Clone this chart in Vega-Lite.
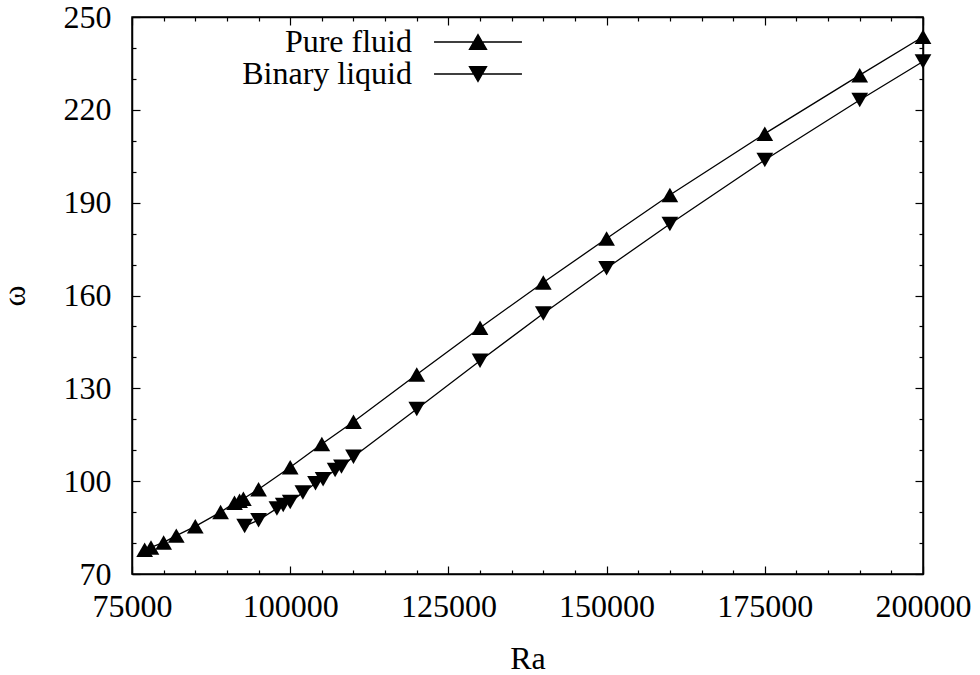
{
  "$schema": "https://vega.github.io/schema/vega-lite/v6.json",
  "width": 791,
  "height": 557,
  "autosize": {"type": "none"},
  "padding": {"left": 132, "top": 17, "right": 57, "bottom": 101},
  "background": "white",
  "config": {
    "view": {"stroke": "black", "strokeWidth": 1.5},
    "font": "Liberation Serif",
    "axis": {
      "labelFont": "Liberation Serif",
      "labelFontSize": 32,
      "labelColor": "black",
      "titleFont": "Liberation Serif",
      "titleFontSize": 32,
      "titleFontWeight": "normal",
      "titleColor": "black",
      "domainColor": "black",
      "domainWidth": 1.5,
      "tickColor": "black",
      "tickWidth": 1.2,
      "grid": false,
      "labelFlush": false,
      "labelOverlap": false,
      "labelBound": false
    },
    "legend": {
      "labelFont": "Liberation Serif",
      "labelFontSize": 32,
      "labelColor": "black",
      "labelAlign": "right",
      "labelOffset": -82,
      "labelLimit": 400,
      "symbolSize": 900,
      "symbolFillColor": "black",
      "symbolStrokeColor": "black",
      "symbolStrokeWidth": 1.3,
      "rowPadding": 0,
      "padding": 0
    }
  },
  "data": {
    "values": [
      {"Ra": 77000, "omega": 77.8, "series": "Pure fluid"},
      {"Ra": 78000, "omega": 78.6, "series": "Pure fluid"},
      {"Ra": 80000, "omega": 80.2, "series": "Pure fluid"},
      {"Ra": 82000, "omega": 82.4, "series": "Pure fluid"},
      {"Ra": 85000, "omega": 85.4, "series": "Pure fluid"},
      {"Ra": 89000, "omega": 90.0, "series": "Pure fluid"},
      {"Ra": 91200, "omega": 93.0, "series": "Pure fluid"},
      {"Ra": 92000, "omega": 93.7, "series": "Pure fluid"},
      {"Ra": 92600, "omega": 94.3, "series": "Pure fluid"},
      {"Ra": 95000, "omega": 97.4, "series": "Pure fluid"},
      {"Ra": 100000, "omega": 104.5, "series": "Pure fluid"},
      {"Ra": 105000, "omega": 112.0, "series": "Pure fluid"},
      {"Ra": 110000, "omega": 119.2, "series": "Pure fluid"},
      {"Ra": 120000, "omega": 134.5, "series": "Pure fluid"},
      {"Ra": 130000, "omega": 149.6, "series": "Pure fluid"},
      {"Ra": 140000, "omega": 164.2, "series": "Pure fluid"},
      {"Ra": 150000, "omega": 178.4, "series": "Pure fluid"},
      {"Ra": 160000, "omega": 192.5, "series": "Pure fluid"},
      {"Ra": 175000, "omega": 212.3, "series": "Pure fluid"},
      {"Ra": 190000, "omega": 231.2, "series": "Pure fluid"},
      {"Ra": 200000, "omega": 243.6, "series": "Pure fluid"},
      {"Ra": 92800, "omega": 85.5, "series": "Binary liquid"},
      {"Ra": 95000, "omega": 87.4, "series": "Binary liquid"},
      {"Ra": 97900, "omega": 91.2, "series": "Binary liquid"},
      {"Ra": 98900, "omega": 92.3, "series": "Binary liquid"},
      {"Ra": 100000, "omega": 93.3, "series": "Binary liquid"},
      {"Ra": 102000, "omega": 96.3, "series": "Binary liquid"},
      {"Ra": 104000, "omega": 99.3, "series": "Binary liquid"},
      {"Ra": 105200, "omega": 100.6, "series": "Binary liquid"},
      {"Ra": 107100, "omega": 103.6, "series": "Binary liquid"},
      {"Ra": 108100, "omega": 104.7, "series": "Binary liquid"},
      {"Ra": 110000, "omega": 107.9, "series": "Binary liquid"},
      {"Ra": 120000, "omega": 123.3, "series": "Binary liquid"},
      {"Ra": 130000, "omega": 138.9, "series": "Binary liquid"},
      {"Ra": 140000, "omega": 154.2, "series": "Binary liquid"},
      {"Ra": 150000, "omega": 168.8, "series": "Binary liquid"},
      {"Ra": 160000, "omega": 183.1, "series": "Binary liquid"},
      {"Ra": 175000, "omega": 203.8, "series": "Binary liquid"},
      {"Ra": 190000, "omega": 223.2, "series": "Binary liquid"},
      {"Ra": 200000, "omega": 235.6, "series": "Binary liquid"}
    ]
  },
  "layer": [
    {
      "transform": [{"filter": "datum.series === 'Pure fluid'"}],
      "mark": {"type": "line", "strokeWidth": 1.3},
      "encoding": {
        "x": {
          "field": "Ra", "type": "quantitative",
          "scale": {"domain": [75000, 200000], "nice": false, "zero": false},
          "axis": {
            "title": "Ra",
            "titlePadding": 17,
            "values": [75000, 80000, 85000, 90000, 95000, 100000, 105000, 110000, 115000, 120000, 125000, 130000, 135000, 140000, 145000, 150000, 155000, 160000, 165000, 170000, 175000, 180000, 185000, 190000, 195000, 200000],
            "labelExpr": "datum.value % 25000 === 0 ? datum.label : ''",
            "format": "d",
            "tickSize": {"condition": {"test": "datum.value % 25000 === 0", "value": -8}, "value": -4},
            "labelPadding": 25
          }
        },
        "y": {
          "field": "omega", "type": "quantitative",
          "scale": {"domain": [70, 250], "nice": false, "zero": false},
          "axis": {
            "title": "ω",
            "titlePadding": 32,
            "values": [70, 80, 90, 100, 110, 120, 130, 140, 150, 160, 170, 180, 190, 200, 210, 220, 230, 240, 250],
            "labelExpr": "(datum.value - 70) % 30 === 0 ? datum.label : ''",
            "tickSize": {"condition": {"test": "(datum.value - 70) % 30 === 0", "value": -8}, "value": -4},
            "labelPadding": 29
          }
        },
        "color": {
          "field": "series", "type": "nominal",
          "scale": {"domain": ["Pure fluid"], "range": ["black"]},
          "legend": {
            "title": null,
            "orient": "none",
            "legendX": 330,
            "legendY": 9,
            "symbolType": "M-2.93,0H2.93M0,-0.49L0.57,0.49L-0.57,0.49Z"
          }
        },
        "order": {"field": "Ra"}
      }
    },
    {
      "transform": [{"filter": "datum.series === 'Binary liquid'"}],
      "mark": {"type": "line", "strokeWidth": 1.3},
      "encoding": {
        "x": {"field": "Ra", "type": "quantitative", "axis": null},
        "y": {"field": "omega", "type": "quantitative", "axis": null},
        "color": {
          "field": "series", "type": "nominal",
          "scale": {"domain": ["Binary liquid"], "range": ["black"]},
          "legend": {
            "title": null,
            "orient": "none",
            "legendX": 330,
            "legendY": 41,
            "symbolType": "M-2.93,0H2.93M0,0.49L0.57,-0.49L-0.57,-0.49Z"
          }
        },
        "order": {"field": "Ra"}
      }
    },
    {
      "mark": {"type": "point", "filled": true, "color": "black", "size": 280, "opacity": 1},
      "encoding": {
        "x": {
          "field": "Ra", "type": "quantitative",
          "axis": {
            "orient": "top", "title": null, "labels": false,
            "values": [75000, 80000, 85000, 90000, 95000, 100000, 105000, 110000, 115000, 120000, 125000, 130000, 135000, 140000, 145000, 150000, 155000, 160000, 165000, 170000, 175000, 180000, 185000, 190000, 195000, 200000],
            "tickSize": {"condition": {"test": "datum.value % 25000 === 0", "value": -8}, "value": -4}
          }
        },
        "y": {
          "field": "omega", "type": "quantitative",
          "axis": {
            "orient": "right", "title": null, "labels": false,
            "values": [70, 80, 90, 100, 110, 120, 130, 140, 150, 160, 170, 180, 190, 200, 210, 220, 230, 240, 250],
            "tickSize": {"condition": {"test": "(datum.value - 70) % 30 === 0", "value": -8}, "value": -4}
          }
        },
        "shape": {
          "field": "series", "type": "nominal",
          "scale": {"domain": ["Pure fluid", "Binary liquid"], "range": ["triangle-up", "triangle-down"]},
          "legend": null
        }
      }
    }
  ],
  "resolve": {
    "axis": {"x": "independent", "y": "independent"},
    "scale": {"color": "independent"},
    "legend": {"color": "independent"}
  }
}
